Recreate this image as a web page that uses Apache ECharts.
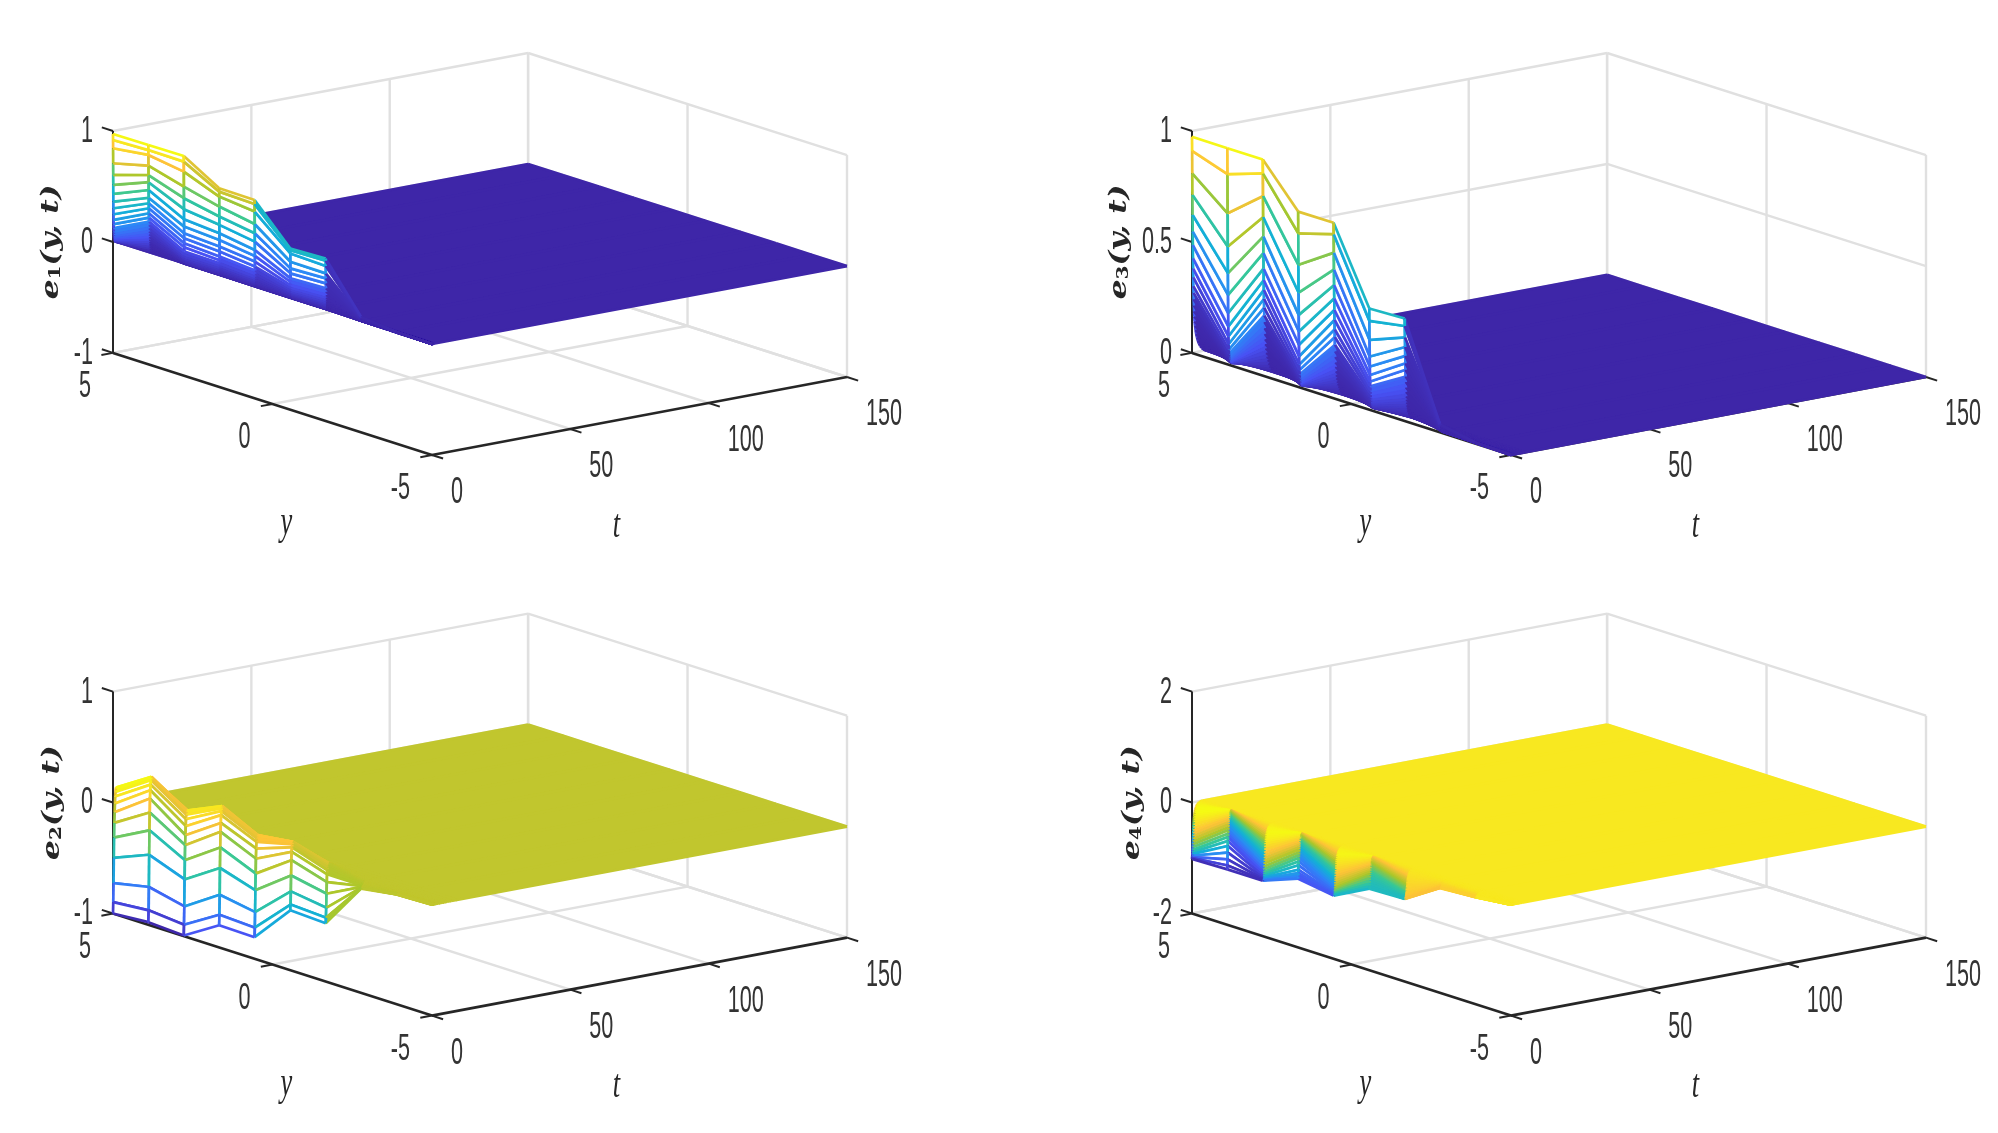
<!DOCTYPE html>
<html>
<head>
<meta charset="utf-8">
<title>e1 e2 e3 e4 surfaces</title>
<script src="https://cdn.jsdelivr.net/npm/echarts@6/dist/echarts.min.js"></script>
<style>
html,body{margin:0;padding:0;background:#fff}
#main{width:1998px;height:1133px}
</style>
</head>
<body>
<div id="main"></div>
<script>
// y grid of the mesh, same for all four panels
var yValues = [5, 3.89, 2.78, 1.67, 0.56, -0.56, -1.67, -2.78, -3.89, -5];
var tTicks = [0, 50, 100, 150];
var yTicks = [5, 0, -5];

// e1: rows are time steps, columns follow yValues
var tE1 = [0, .02, .04, .06, .08, .1, .12, .14, .16, .18, .2, .22, .24, .26, .28, .3, .33, .36, .4, .44, .48, .54, .6, .7, 1, 150];
var zE1 = [
  [.973, .976, .979, .790, .787, .453, .465, .040, .006, 0],
  [.919, .930, .928, .760, .750, .438, .444, .036, .005, 0],
  [.844, .886, .838, .715, .682, .408, .396, .032, .005, 0],
  [.709, .790, .703, .625, .570, .333, .330, .028, .004, 0],
  [.604, .705, .598, .535, .486, .273, .285, .025, .004, 0],
  [.514, .640, .499, .460, .411, .228, .240, .022, .003, 0],
  [.432, .570, .408, .384, .336, .183, .195, .019, .003, 0],
  [.363, .500, .342, .324, .282, .150, .165, .016, .002, 0],
  [.303, .450, .282, .264, .231, .120, .135, .014, .002, 0],
  [.249, .405, .237, .220, .186, .098, .112, .012, .002, 0],
  [.198, .360, .192, .174, .150, .080, .092, .010, .001, 0],
  [.159, .320, .156, .140, .120, .064, .075, .008, .001, 0],
  [.123, .285, .117, .112, .095, .052, .060, .006, .001, 0],
  [.093, .255, .090, .090, .075, .042, .048, .005, 0, 0],
  [.072, .225, .070, .072, .058, .034, .038, .004, 0, 0],
  [.055, .195, .055, .058, .045, .027, .030, .003, 0, 0],
  [.042, .170, .042, .046, .034, .021, .024, .002, 0, 0],
  [.032, .145, .032, .036, .026, .016, .018, .002, 0, 0],
  [.024, .122, .024, .028, .019, .012, .013, .001, 0, 0],
  [.017, .100, .017, .021, .013, .009, .009, .001, 0, 0],
  [.012, .080, .012, .015, .009, .006, .006, 0, 0, 0],
  [.008, .060, .008, .010, .006, .004, .004, 0, 0, 0],
  [.005, .040, .005, .006, .003, .002, .002, 0, 0, 0],
  [.002, .020, .002, .003, .001, .001, .001, 0, 0, 0],
  [0, 0, 0, 0, 0, 0, 0, 0, 0, 0],
  [0, 0, 0, 0, 0, 0, 0, 0, 0, 0]
];

// e3
var tE3 = [0, .05, .1, .15, .2, .25, .3, .35, .4, .45, .5, .55, .6, .68, .76, .85, .95, 1.1, 1.3, 1.5, 1.8, 2.1, 2.5, 3, 3.6, 4.2, 5, 150];
var zE3 = [
  [.974, .973, .974, .790, .791, .456, .462, .035, .005, 0],
  [.910, .857, .911, .692, .739, .400, .428, .032, .004, 0],
  [.809, .680, .809, .550, .656, .314, .377, .028, .004, 0],
  [.712, .530, .714, .425, .580, .239, .333, .024, .003, 0],
  [.622, .410, .627, .324, .510, .194, .293, .021, .003, 0],
  [.547, .312, .552, .249, .450, .156, .260, .018, .002, 0],
  [.486, .230, .482, .189, .398, .126, .230, .015, .002, 0],
  [.426, .170, .430, .137, .353, .104, .200, .012, .002, 0],
  [.380, .125, .385, .100, .310, .085, .175, .010, .001, 0],
  [.340, .090, .345, .075, .275, .070, .150, .008, .001, 0],
  [.300, .065, .305, .055, .240, .055, .130, .006, .001, 0],
  [.270, .045, .270, .040, .210, .045, .110, .005, .001, 0],
  [.240, .032, .240, .030, .185, .035, .095, .004, 0, 0],
  [.212, .024, .212, .022, .160, .028, .082, .003, 0, 0],
  [.186, .018, .186, .016, .140, .022, .070, .002, 0, 0],
  [.162, .013, .162, .012, .120, .017, .060, .002, 0, 0],
  [.140, .010, .140, .009, .103, .013, .051, .001, 0, 0],
  [.120, .007, .120, .006, .088, .010, .043, .001, 0, 0],
  [.100, .005, .100, .004, .074, .007, .035, 0, 0, 0],
  [.082, .003, .082, .003, .061, .005, .028, 0, 0, 0],
  [.066, .002, .066, .002, .049, .003, .022, 0, 0, 0],
  [.050, .001, .050, .001, .038, .002, .017, 0, 0, 0],
  [.036, 0, .036, 0, .027, .001, .012, 0, 0, 0],
  [.024, 0, .024, 0, .018, 0, .008, 0, 0, 0],
  [.014, 0, .014, 0, .010, 0, .004, 0, 0, 0],
  [.006, 0, .006, 0, .004, 0, .002, 0, 0, 0],
  [0, 0, 0, 0, 0, 0, 0, 0, 0, 0],
  [0, 0, 0, 0, 0, 0, 0, 0, 0, 0]
];

// e2 starts low, overshoots, then settles on zero
var tE2 = [0, .1, .2, .3, .4, .5, .6, .7, .8, .9, 1, 1.1, 1.4, 1.8, 2.3, 2.9, 3.6, 4.5, 5.5, 7, 9, 150];
var zE2 = [
  [-1.0, -.976, -.994, -.80, -.805, -.46, -.474, -.06, -.01, 0],
  [-.898, -.87, -.898, -.706, -.72, -.408, -.426, -.055, -.01, 0],
  [-.727, -.66, -.733, -.526, -.58, -.29, -.336, -.05, -.008, 0],
  [-.50, -.37, -.49, -.285, -.384, -.147, -.21, -.045, -.007, 0],
  [-.318, -.15, -.318, -.10, -.234, -.01, -.105, -.04, -.006, 0],
  [-.186, .01, -.183, .04, -.10, .065, -.035, -.035, -.005, 0],
  [-.09, .135, -.093, .12, -.01, .105, 0, -.03, -.004, 0],
  [-.012, .21, -.012, .19, .05, .13, .025, -.025, -.003, 0],
  [.05, .26, .05, .225, .08, .145, .04, -.02, -.002, 0],
  [.09, .30, .09, .25, .10, .153, .052, -.015, 0, 0],
  [.12, .32, .115, .265, .108, .153, .06, -.01, 0, 0],
  [.13, .33, .126, .27, .11, .15, .06, -.006, 0, 0],
  [.125, .31, .125, .25, .105, .135, .058, -.004, 0, 0],
  [.11, .27, .11, .215, .09, .115, .05, -.002, 0, 0],
  [.09, .22, .09, .17, .072, .09, .04, 0, 0, 0],
  [.07, .165, .07, .125, .055, .065, .03, 0, 0, 0],
  [.05, .115, .05, .085, .038, .045, .02, 0, 0, 0],
  [.03, .07, .03, .05, .022, .026, .012, 0, 0, 0],
  [.015, .035, .015, .025, .01, .012, .005, 0, 0, 0],
  [.005, .012, .005, .008, .003, .004, .002, 0, 0, 0],
  [0, 0, 0, 0, 0, 0, 0, 0, 0, 0],
  [0, 0, 0, 0, 0, 0, 0, 0, 0, 0]
];

// e4, written column by column (one list per y value)
var tE4 = [0, .03, .07, .1, .14, .18, .22, .26, .3, .34, .38, .42, .46, .5, .55, .6, .65, .7, .75, .85, .95, 1.05, 1.2, 1.35, 1.5, 1.7, 1.9, 2.2, 2.5, 2.9, 3.4, 4, 150];
var e4y0 = [-1.015, -1.0, -.985, -.96, -.93, -.90, -.86, -.81, -.76, -.71, -.66, -.61, -.56, -.51, -.46, -.41, -.36, -.32, -.28, -.24, -.20, -.17, -.14, -.115, -.09, -.07, -.05, -.035, -.02, -.012, -.005, 0, 0];
var e4y1 = [-1.0, -.93, -.82, -.70, -.58, -.49, -.42, -.36, -.30, -.25, -.20, -.16, -.12, -.09, -.06, -.03, -.01, .01, .025, .04, .05, .054, .054, .05, .045, .04, .03, .02, .012, .006, .002, 0, 0];
var e4y2 = [-1.0, -.99, -.975, -.95, -.92, -.885, -.85, -.80, -.75, -.70, -.65, -.60, -.55, -.50, -.45, -.40, -.35, -.31, -.27, -.23, -.19, -.16, -.13, -.105, -.08, -.06, -.045, -.03, -.018, -.01, -.004, 0, 0];
var e4y3 = [-.76, -.72, -.66, -.60, -.52, -.45, -.39, -.34, -.29, -.24, -.20, -.16, -.125, -.095, -.065, -.04, -.015, .005, .02, .03, .04, .045, .045, .04, .035, .03, .022, .015, .01, .005, .002, 0, 0];
var e4y4 = [-.86, -.85, -.835, -.815, -.79, -.76, -.73, -.69, -.645, -.60, -.56, -.515, -.47, -.43, -.385, -.345, -.30, -.265, -.23, -.195, -.16, -.135, -.11, -.09, -.07, -.05, -.04, -.025, -.015, -.008, -.003, 0, 0];
var e4y5 = [-.53, -.49, -.44, -.39, -.345, -.30, -.265, -.23, -.20, -.17, -.14, -.115, -.09, -.07, -.05, -.03, -.015, 0, .01, .02, .03, .035, .035, .03, .028, .025, .02, .012, .007, .004, .001, 0, 0];
var e4y6 = [-.51, -.505, -.495, -.485, -.47, -.45, -.43, -.41, -.385, -.355, -.33, -.305, -.28, -.255, -.23, -.205, -.18, -.16, -.14, -.12, -.10, -.08, -.065, -.05, -.04, -.03, -.02, -.014, -.009, -.005, -.002, 0, 0];
var e4y7 = [-.11, -.105, -.10, -.095, -.09, -.085, -.08, -.075, -.07, -.065, -.06, -.055, -.05, -.045, -.04, -.036, -.032, -.028, -.024, -.02, -.017, -.014, -.012, -.01, -.008, -.006, -.004, -.003, -.002, -.001, 0, 0, 0];
var e4y8 = [-.07, -.068, -.066, -.064, -.06, -.058, -.055, -.052, -.05, -.047, -.044, -.04, -.037, -.034, -.03, -.027, -.024, -.021, -.018, -.015, -.012, -.01, -.008, -.006, -.005, -.004, -.003, -.002, -.001, -.001, 0, 0, 0];
var e4y9 = [0, 0, 0, 0, 0, 0, 0, 0, 0, 0, 0, 0, 0, 0, 0, 0, 0, 0, 0, 0, 0, 0, 0, 0, 0, 0, 0, 0, 0, 0, 0, 0, 0];
var e4Columns = [e4y0, e4y1, e4y2, e4y3, e4y4, e4y5, e4y6, e4y7, e4y8, e4y9];
var zE4 = tE4.map(function (t, r) {
  return e4Columns.map(function (col) { return col[r]; });
});

var zTicksE1 = [-1, 0, 1];
var zTicksE2 = [-1, 0, 1];
var zTicksE3 = [0, 0.5, 1];
var zTicksE4 = [-2, 0, 2];

// parula colormap
var parula = ['#3e26a8', '#4852f4', '#2d87f7', '#12b1d6', '#37c897', '#abc72a', '#fec338', '#f5fa14'];

var panels = [
  {sub: '1', left: 113, top: 53, ts: tE1, zs: zE1, zTicks: zTicksE1, clim: [0, .98], fillGap: 3.6, titleX: -62},
  {sub: '3', left: 1192, top: 53, ts: tE3, zs: zE3, zTicks: zTicksE3, clim: [0, .98], fillGap: 5.5, titleX: -73},
  {sub: '2', left: 113, top: 613.6, ts: tE2, zs: zE2, zTicks: zTicksE2, clim: [-1, .33], fillGap: 3, titleX: -61},
  {sub: '4', left: 1192, top: 613.6, ts: tE4, zs: zE4, zTicks: zTicksE4, clim: [-1.03, .05], fillGap: 2.2, titleX: -60}
];

// oblique view of the box, as fractions of each panel's hidden grid
var boxW = 734, boxH = 402;
var uT = .5655, uY = .4345, vBase = .254, vY = .254, vT = .194, vZ = .552;
var meshWidth = 2.7;

function project(api, p, t, y, z) {
  var ticks = p.zTicks;
  var zMin = ticks[0], zMax = ticks[ticks.length - 1];
  var tn = t / 150, yn = (5 - y) / 10, zn = (z - zMin) / (zMax - zMin);
  return api.coord([uT * tn + uY * yn, vBase - vY * yn + vT * tn + vZ * zn]);
}

function colorOf(p, z) {
  var f = (z - p.clim[0]) / (p.clim[1] - p.clim[0]);
  return echarts.color.lerp(Math.max(0, Math.min(1, f)), parula);
}

function seg(a, b, color, width) {
  return {type: 'line', shape: {x1: a[0], y1: a[1], x2: b[0], y2: b[1]}, style: {stroke: color, lineWidth: width}};
}

function label(text, x, y, align) {
  return {
    type: 'text', x: x, y: y, scaleX: .6,
    style: {text: text, fontFamily: 'Liberation Sans', fontSize: 36, fill: '#333', align: align, verticalAlign: 'middle'}
  };
}

function mathLabel(text, x, y) {
  return {
    type: 'text', x: x, y: y, scaleX: .66,
    style: {text: text, fontFamily: 'Liberation Serif', fontStyle: 'italic', fontSize: 40, fill: '#262626', align: 'center', verticalAlign: 'middle'}
  };
}

function renderFrame(p, params, api) {
  var kids = [];
  var gray = '#e0e0e0', black = '#262626';
  var zT = p.zTicks, zLo = zT[0], zHi = zT[zT.length - 1];
  var P = function (t, y, z) { return project(api, p, t, y, z); };
  var a;

  // floor and back walls
  tTicks.forEach(function (t) {
    if (t > 0) {
      kids.push(seg(P(t, 5, zLo), P(t, -5, zLo), gray, 2.4));
      kids.push(seg(P(t, 5, zLo), P(t, 5, zHi), gray, 2.4));
    }
  });
  yTicks.forEach(function (y) {
    if (y > -5) kids.push(seg(P(0, y, zLo), P(150, y, zLo), gray, 2.4));
    kids.push(seg(P(150, y, zLo), P(150, y, zHi), gray, 2.4));
  });
  zT.forEach(function (z) {
    kids.push(seg(P(0, 5, z), P(150, 5, z), gray, 2.4));
    kids.push(seg(P(150, 5, z), P(150, -5, z), gray, 2.4));
  });

  // axes
  kids.push(seg(P(0, 5, zLo), P(0, 5, zHi), black, 2));
  kids.push(seg(P(0, 5, zLo), P(0, -5, zLo), black, 2.6));
  kids.push(seg(P(0, -5, zLo), P(150, -5, zLo), black, 2.6));

  zT.forEach(function (z) {
    a = P(0, 5, z);
    kids.push(seg(a, P(0, 5.35, z), black, 2));
    kids.push(label(String(z), a[0] - 20, a[1] + 1, 'right'));
  });
  yTicks.forEach(function (y) {
    a = P(0, y, zLo);
    kids.push(seg(a, P(-4.2, y, zLo), black, 2));
    kids.push(label(String(y), a[0] - 22, a[1] + 34.5, 'right'));
  });
  tTicks.forEach(function (t) {
    a = P(t, -5, zLo);
    kids.push(seg(a, P(t, -5.35, zLo), black, 2));
    kids.push(label(String(t), a[0] + 19, a[1] + 38, 'left'));
  });

  // axis names
  a = P(0, 0, zLo);
  kids.push(mathLabel('y', a[0] + 14, a[1] + 120));
  a = P(75, -5, zLo);
  kids.push(mathLabel('t', a[0] - 23, a[1] + 110));
  a = P(0, 5, (zLo + zHi) / 2);
  kids.push({
    type: 'text', x: a[0] + p.titleX, y: a[1], rotation: Math.PI / 2, scaleX: 1.25,
    style: {
      text: '{e|e}{s|' + p.sub + '}{e|(y, t)}',
      align: 'center', verticalAlign: 'middle', fill: '#262626',
      rich: {
        e: {fontFamily: 'DejaVu Serif', fontStyle: 'italic', fontWeight: 'bold', fontSize: 25, fill: '#262626'},
        s: {fontFamily: 'DejaVu Serif', fontWeight: 'bold', fontSize: 16, fill: '#262626', verticalAlign: 'bottom', padding: [8, 0, 0, 0]}
      }
    }
  });
  return {type: 'group', children: kids};
}

function renderQuad(p, params, api) {
  var r = api.value(0), j = api.value(1);
  var zs = p.zs, ts = p.ts;
  var P = function (row, col) { return project(api, p, ts[row], yValues[col], zs[row][col]); };
  var a = P(r, j), b = P(r, j + 1), c = P(r + 1, j + 1), d = P(r + 1, j);

  var zT = p.zTicks;
  var zPx = vZ * boxH / (zT[zT.length - 1] - zT[0]);
  var gap = (Math.abs(zs[r + 1][j] - zs[r][j]) + Math.abs(zs[r + 1][j + 1] - zs[r][j + 1])) / 2 * zPx;
  var solid = gap < p.fillGap;
  var solidColor = colorOf(p, zs[r + 1][j + 1]);

  return {
    type: 'group',
    children: [
      {
        type: 'polygon', shape: {points: [a, b, c, d]},
        style: {fill: solid ? solidColor : '#fff', stroke: solid ? solidColor : '#fff', lineWidth: solid ? 1 : 0}
      },
      seg(d, c, colorOf(p, zs[r + 1][j + 1]), meshWidth),
      seg(a, b, colorOf(p, zs[r][j + 1]), meshWidth),
      seg(a, d, colorOf(p, zs[r + 1][j]), meshWidth),
      seg(b, c, colorOf(p, zs[r + 1][j + 1]), meshWidth)
    ]
  };
}

var myChart = echarts.init(document.getElementById('main'), null, {renderer: 'canvas'});
var grids = [], xAxes = [], yAxes = [], series = [];

panels.forEach(function (p, idx) {
  grids.push({left: p.left, top: p.top, width: boxW, height: boxH});
  xAxes.push({type: 'value', gridIndex: idx, min: 0, max: 1, show: false});
  yAxes.push({type: 'value', gridIndex: idx, min: 0, max: 1, show: false});

  series.push({
    type: 'custom', xAxisIndex: idx, yAxisIndex: idx, silent: true, z: 1,
    renderItem: function (params, api) { return renderFrame(p, params, api); },
    data: [[0, 0]]
  });

  // far rows first, then nearer ones, so white faces hide what is behind
  var quads = [];
  for (var r = p.ts.length - 2; r >= 0; r--) {
    for (var j = 0; j < yValues.length - 1; j++) quads.push([r, j]);
  }
  series.push({
    type: 'custom', xAxisIndex: idx, yAxisIndex: idx, silent: true, z: 2, progressive: 0,
    renderItem: function (params, api) { return renderQuad(p, params, api); },
    data: quads
  });
});

myChart.setOption({
  animation: false,
  backgroundColor: '#fff',
  tooltip: {show: false},
  grid: grids,
  xAxis: xAxes,
  yAxis: yAxes,
  series: series
});
</script>
</body>
</html>
